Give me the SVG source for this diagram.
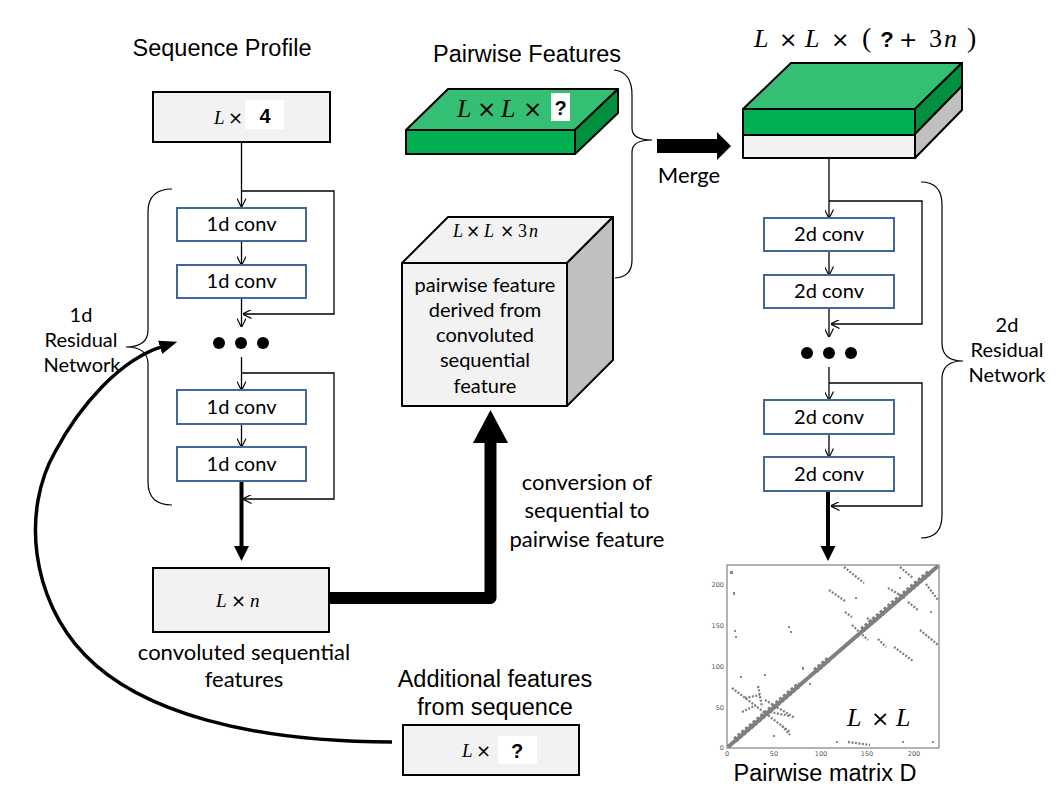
<svg xmlns="http://www.w3.org/2000/svg" width="1058" height="794" viewBox="0 0 1058 794">
<defs>
<style>
.t{font-family:"Liberation Sans",Arial,sans-serif;font-size:23.5px;fill:#000}
.c{font-family:Lato,"Open Sans",sans-serif;fill:#000}
.m{font-family:"Liberation Serif","Times New Roman",serif;fill:#000}
.mi{font-style:italic}
.x{font-family:"DejaVu Sans",sans-serif;font-style:normal}
.q{font-family:"Liberation Sans",Arial,sans-serif;font-weight:bold;fill:#000}
.box{fill:#f2f2f2;stroke:#000;stroke-width:2}
.conv{fill:#fff;stroke:#41679b;stroke-width:2}
.ln{fill:none;stroke:#000;stroke-width:1.3}
.br{fill:none;stroke:#000;stroke-width:1.2}
.th{fill:none;stroke:#000;stroke-width:4}
.g1{fill:#35bf74;stroke:#000;stroke-width:2;stroke-linejoin:round}
.g2{fill:#00b050;stroke:#000;stroke-width:2;stroke-linejoin:round}
.g3{fill:#009040;stroke:#000;stroke-width:2;stroke-linejoin:round}
.gr1{fill:#f2f2f2;stroke:#000;stroke-width:2;stroke-linejoin:round}
.gr2{fill:#c0c0c0;stroke:#000;stroke-width:2;stroke-linejoin:round}
.dot{fill:#000}
.pt{fill:none;stroke:#808080;stroke-width:2.3;stroke-dasharray:2 1.5}
.tk{font-family:"DejaVu Sans",sans-serif;font-size:6.5px;fill:#555}
</style>
<marker id="open" viewBox="0 0 10 10" refX="9.5" refY="5" markerWidth="9" markerHeight="9" markerUnits="userSpaceOnUse" orient="auto">
<path d="M0,0 L10,5 L0,10" fill="none" stroke="#000" stroke-width="1.3"/>
</marker>
<marker id="curvehead" viewBox="0 0 18 14" refX="2" refY="7" markerWidth="18" markerHeight="14" markerUnits="userSpaceOnUse" orient="auto">
<path d="M0,0 L18,7 L0,14 z" fill="#000"/>
</marker>
</defs>
<rect width="1058" height="794" fill="#fff"/>

<g id="connectors">
<path class="ln" d="M241.5,142 V207" marker-end="url(#open)"/>
<path class="ln" d="M241.5,191 H334 V314 H243" marker-end="url(#open)"/>
<path class="ln" d="M241.5,241 V265" marker-end="url(#open)"/>
<path class="ln" d="M241.5,298 V327" marker-end="url(#open)"/>
<path class="ln" d="M241.5,357 V390" marker-end="url(#open)"/>
<path class="ln" d="M241.5,373 H334 V499 H243" marker-end="url(#open)"/>
<path class="ln" d="M241.5,424 V447" marker-end="url(#open)"/>
<path class="th" d="M241.5,481 V548"/>
<polygon points="234,546 249,546 241.5,561" fill="#000"/>
<path class="br" d="M172,189 Q148,189 148,212 V330 Q148,347 126,347 Q148,347 148,364 V482 Q148,505 172,505"/>
<path d="M329,598 H490.5 V440" fill="none" stroke="#000" stroke-width="12" stroke-linejoin="round"/>
<polygon points="473,443 508,443 490.5,410" fill="#000"/>
<path class="br" d="M614,70 Q632,72 632,95 V128 Q632,140 652,140 Q632,140 632,152 V260 Q632,277 615,278"/>
<polygon points="657,139 717,139 717,132 731,146 717,160 717,153 657,153" fill="#000"/>
<path class="ln" d="M829,158 V218" marker-end="url(#open)"/>
<path class="ln" d="M829,201 H922 V324 H831" marker-end="url(#open)"/>
<path class="ln" d="M829,251 V275" marker-end="url(#open)"/>
<path class="ln" d="M829,308 V337" marker-end="url(#open)"/>
<path class="ln" d="M829,367 V400" marker-end="url(#open)"/>
<path class="ln" d="M829,383 H922 V506 H831" marker-end="url(#open)"/>
<path class="ln" d="M829,434 V457" marker-end="url(#open)"/>
<path class="th" d="M828,491 V548"/>
<polygon points="820.5,546 835.5,546 828,561" fill="#000"/>
<path class="br" d="M921,182 Q942,182 942,205 V343 Q942,361 963,361 Q942,361 942,379 V515 Q942,538 921,538"/>
<path d="M392,742 C250,742 140,712 85,655 C30,598 22,510 55,452 C80,405 120,360 162,346.7" fill="none" stroke="#000" stroke-width="3.5" marker-end="url(#curvehead)"/>
</g>

<g id="seq-profile">
<text class="t" x="222" y="56" text-anchor="middle">Sequence Profile</text>
<rect class="box" x="153" y="92" width="177" height="50"/>
<text class="m" font-size="19" y="124"><tspan class="mi" x="214">L</tspan><tspan class="x" x="228" font-size="18">×</tspan></text>
<rect x="245" y="100" width="39" height="29" fill="#fff"/>
<text class="q" font-size="20" x="265" y="123" text-anchor="middle">4</text>
</g>

<g id="conv1d-1"><rect class="conv" x="177" y="208" width="129" height="33"/><text class="c" font-size="20" x="241.5" y="231" text-anchor="middle">1d conv</text></g>
<g id="conv1d-2"><rect class="conv" x="177" y="265" width="129" height="33"/><text class="c" font-size="20" x="241.5" y="288" text-anchor="middle">1d conv</text></g>
<g id="dots1d"><circle class="dot" cx="219" cy="343" r="6"/><circle class="dot" cx="241" cy="343" r="6"/><circle class="dot" cx="263" cy="343" r="6"/></g>
<g id="conv1d-3"><rect class="conv" x="177" y="390" width="129" height="34"/><text class="c" font-size="20" x="241.5" y="414" text-anchor="middle">1d conv</text></g>
<g id="conv1d-4"><rect class="conv" x="177" y="447" width="129" height="34"/><text class="c" font-size="20" x="241.5" y="471" text-anchor="middle">1d conv</text></g>
<g id="label-1d"><text class="c" font-size="20" text-anchor="middle"><tspan x="81" y="322">1d</tspan><tspan x="81" y="347">Residual</tspan><tspan x="82" y="372">Network</tspan></text></g>

<g id="seq-features">
<rect class="box" x="153" y="568" width="176" height="64"/>
<text class="m" font-size="19" y="607"><tspan class="mi" x="216">L</tspan><tspan class="x" x="231" font-size="18">×</tspan><tspan class="mi" x="250">n</tspan></text>
<text class="c" font-size="22" text-anchor="middle"><tspan x="244" y="660">convoluted sequential</tspan><tspan x="244" y="687">features</tspan></text>
</g>

<g id="additional">
<text class="t" text-anchor="middle"><tspan x="495" y="687">Additional features</tspan><tspan x="495" y="715">from sequence</tspan></text>
<rect class="box" x="403" y="725" width="176" height="50"/>
<text class="m" font-size="19" y="757"><tspan class="mi" x="462">L</tspan><tspan class="x" x="476" font-size="18">×</tspan></text>
<rect x="498" y="736" width="39" height="28" fill="#fff"/>
<text class="q" font-size="20" x="517" y="758" text-anchor="middle">?</text>
</g>

<g id="pairwise-features">
<text class="t" x="527" y="62" text-anchor="middle">Pairwise Features</text>
<polygon class="g1" points="406,130 448,89 618,89 575,130"/>
<polygon class="g3" points="575,130 618,89 618,113 575,154"/>
<rect class="g2" x="406" y="130" width="169" height="24"/>
<text class="m" font-size="26" y="117"><tspan class="mi" x="457">L</tspan><tspan class="x" x="477" font-size="23">×</tspan><tspan class="mi" x="501">L</tspan><tspan class="x" x="523" font-size="23">×</tspan></text>
<rect x="551" y="93" width="19" height="28" fill="#fff"/>
<text class="q" font-size="20" x="560.5" y="115" text-anchor="middle">?</text>
</g>

<g id="pairwise-cube">
<polygon class="gr1" points="402,263 448,217 613,217 567,263"/>
<polygon class="gr2" points="567,263 613,217 613,360 567,406"/>
<rect class="gr1" x="402" y="263" width="165" height="143"/>
<text class="m" font-size="18" y="237"><tspan class="mi" x="453">L</tspan><tspan class="x" x="466" font-size="17">×</tspan><tspan class="mi" x="484">L</tspan><tspan class="x" x="500" font-size="17">×</tspan><tspan x="518">3</tspan><tspan class="mi" x="529">n</tspan></text>
<text class="c" font-size="20" text-anchor="middle"><tspan x="485" y="292">pairwise feature</tspan><tspan x="485" y="317">derived from</tspan><tspan x="485" y="342">convoluted</tspan><tspan x="485" y="367">sequential</tspan><tspan x="485" y="393">feature</tspan></text>
</g>

<g id="conversion-label"><text class="c" font-size="22" text-anchor="middle"><tspan x="587" y="490">conversion of</tspan><tspan x="587" y="518">sequential to</tspan><tspan x="587" y="547">pairwise feature</tspan></text></g>
<g id="merge-label"><text class="c" font-size="22" x="689" y="183" text-anchor="middle">Merge</text></g>

<g id="merged">
<text class="m" font-size="26" y="47"><tspan class="mi" x="754">L</tspan><tspan class="x" x="779" font-size="22">×</tspan><tspan class="mi" x="805">L</tspan><tspan class="x" x="831" font-size="22">×</tspan><tspan x="862" font-size="28">(</tspan><tspan class="x" x="899" font-size="22">+</tspan><tspan x="929">3</tspan><tspan class="mi" x="944">n</tspan><tspan x="967" font-size="28">)</tspan></text>
<text class="q" font-size="22" x="887" y="47" text-anchor="middle" fill="#111">?</text>
<polygon class="g1" points="743,109 791,63 962,63 915,109"/>
<polygon class="g3" points="915,109 962,63 962,86 915,134"/>
<polygon class="gr2" points="915,134 962,86 962,110 915,158"/>
<rect class="g2" x="743" y="109" width="172" height="26"/>
<rect class="gr1" x="743" y="135" width="172" height="23"/>
</g>

<g id="conv2d-1"><rect class="conv" x="764" y="218" width="130" height="33"/><text class="c" font-size="20" x="829" y="241" text-anchor="middle">2d conv</text></g>
<g id="conv2d-2"><rect class="conv" x="764" y="275" width="130" height="33"/><text class="c" font-size="20" x="829" y="298" text-anchor="middle">2d conv</text></g>
<g id="dots2d"><circle class="dot" cx="807" cy="353" r="6"/><circle class="dot" cx="829" cy="353" r="6"/><circle class="dot" cx="851" cy="353" r="6"/></g>
<g id="conv2d-3"><rect class="conv" x="764" y="400" width="130" height="34"/><text class="c" font-size="20" x="829" y="424" text-anchor="middle">2d conv</text></g>
<g id="conv2d-4"><rect class="conv" x="764" y="457" width="130" height="34"/><text class="c" font-size="20" x="829" y="481" text-anchor="middle">2d conv</text></g>
<g id="label-2d"><text class="c" font-size="20" text-anchor="middle"><tspan x="1007" y="332">2d</tspan><tspan x="1007" y="357">Residual</tspan><tspan x="1007" y="382">Network</tspan></text></g>

<g id="matrix">
<rect x="727" y="565" width="212" height="183" fill="#fff" stroke="#8a8a8a" stroke-width="1.3"/>
<g class="tk" text-anchor="end">
<text x="724" y="587">200</text><text x="724" y="628">150</text><text x="724" y="669">100</text><text x="724" y="710">50</text><text x="724" y="750">0</text>
</g>
<g class="tk" text-anchor="middle">
<text x="727" y="756">0</text><text x="774" y="756">50</text><text x="821" y="756">100</text><text x="867" y="756">150</text><text x="914" y="756">200</text>
</g>
<path d="M728,747 L938,566" fill="none" stroke="#7f7f7f" stroke-width="4"/>
<path d="M735,740 L800,684 M815,671 L830,658 M862,630 L930,572" fill="none" stroke="#7f7f7f" stroke-width="6" stroke-dasharray="3 2"/>
<g class="pt">
<path d="M844,567 L864,583"/>
<path d="M829,590 L845,601"/>
<path d="M845,612 L852,617"/>
<path d="M867,618 L873,622"/>
<path d="M852,625 L868,640"/>
<path d="M878,639 L886,647"/>
<path d="M894,647 L913,661"/>
<path d="M920,630 L938,645"/>
<path d="M926,584 L938,600"/>
<path d="M900,567 L913,578"/>
<path d="M888,588 L905,598"/>
<path d="M908,602 L918,610"/>
<path d="M732,688 L790,732"/>
<path d="M745,698 L760,695"/>
<path d="M742,712 L756,705"/>
<path d="M758,686 L762,707"/>
<path d="M765,700 L795,718"/>
<path d="M770,712 L790,716"/>
<path d="M782,726 L790,735"/>
<path d="M848,742 L870,745"/>
</g>
<g fill="#8a8a8a">
<rect x="730" y="571" width="3" height="3"/><rect x="733" y="592" width="2" height="3"/><rect x="734" y="630" width="2" height="2"/><rect x="735" y="636" width="2" height="2"/>
<rect x="788" y="626" width="2" height="2"/><rect x="790" y="631" width="2" height="2"/><rect x="764" y="674" width="2" height="2"/><rect x="836" y="741" width="2" height="2"/>
<rect x="902" y="741" width="2" height="2"/><rect x="932" y="741" width="2" height="2"/><rect x="809" y="683" width="2" height="2"/>
<rect x="773" y="735" width="2" height="2"/><rect x="855" y="597" width="2" height="2"/><rect x="930" y="611" width="2" height="2"/>
<rect x="740" y="676" width="2" height="2"/><rect x="802" y="667" width="2" height="3"/><rect x="899" y="577" width="2" height="2"/>
</g>
<text class="m" font-size="26" y="726"><tspan class="mi" x="847">L</tspan><tspan class="x" x="871" font-size="22">×</tspan><tspan class="mi" x="896">L</tspan></text>
<text class="t" x="825" y="781" text-anchor="middle">Pairwise matrix D</text>
</g>
</svg>
